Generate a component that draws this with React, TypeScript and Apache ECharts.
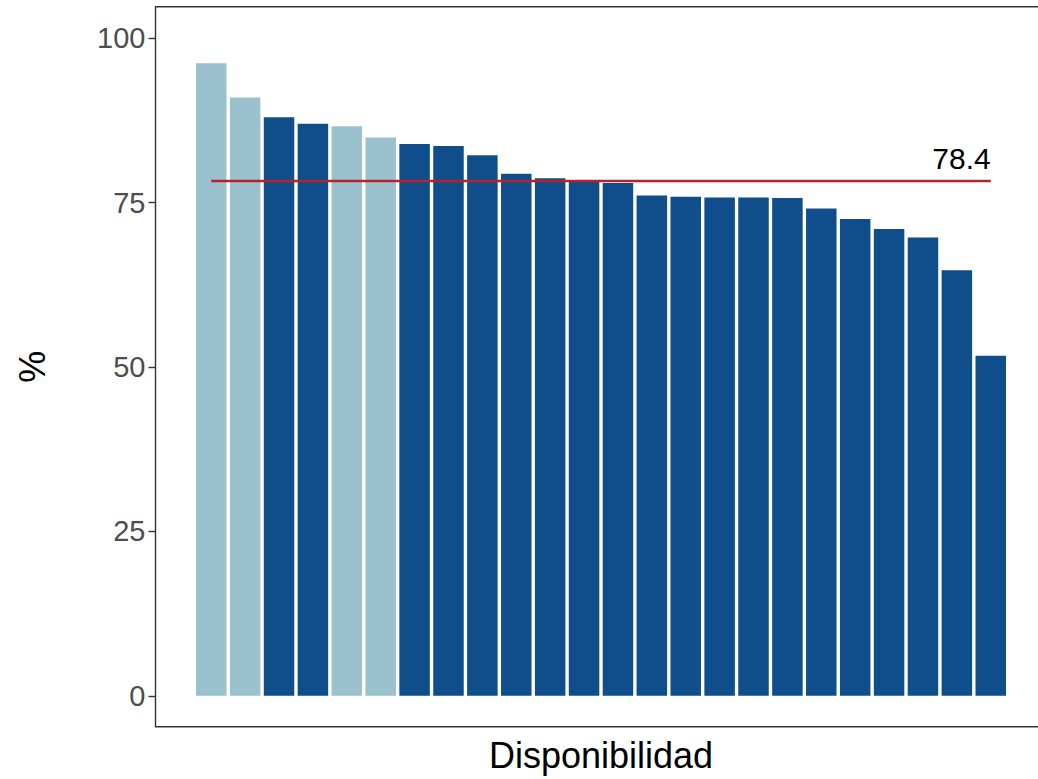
import React, { useEffect, useRef } from "react";
import * as echarts from "echarts";

const categories = ["A1","A2","A3","A4","A5","A6","A7","A8","A9","A10","A11","A12","A13","A14","A15","A16","A17","A18","A19","A20","A21","A22","A23","A24"];
const values = [96.2, 91.0, 88.0, 87.0, 86.6, 84.9, 83.9, 83.6, 82.2, 79.4, 78.7, 78.2, 78.0, 76.1, 75.9, 75.8, 75.8, 75.7, 74.1, 72.5, 71.0, 69.7, 64.7, 51.7];
const groups = ["light","light","dark","dark","light","light","dark","dark","dark","dark","dark","dark","dark","dark","dark","dark","dark","dark","dark","dark","dark","dark","dark","dark"];
const meanValue = 78.4;
const yTicks = [0, 25, 50, 75, 100];

const COLORS: Record<string, string> = { light: "#9BC0CE", dark: "#0F4E8A" };
const FONT = "'Liberation Sans', Arial, sans-serif";

export default function App() {
  const ref = useRef<HTMLDivElement>(null);
  useEffect(() => {
    if (!ref.current) return;
    const chart = echarts.init(ref.current, undefined, { renderer: "svg" });
    const gridLeft = 194.3;
    const gridRight = 30.3;
    const gridTop = 6.7;
    const gridBottom = 779 - 726.7;
    chart.setOption({
      animation: false,
      backgroundColor: "#ffffff",
      textStyle: { fontFamily: FONT },
      grid: { left: gridLeft, right: gridRight, top: gridTop, bottom: gridBottom, containLabel: false },
      graphic: [
        {
          type: "rect",
          silent: true,
          shape: { x: 155.5, y: gridTop, width: 1000, height: 720 },
          style: { fill: "none", stroke: "#333333", lineWidth: 1.4 },
          z: 10,
        },
      ],
      xAxis: {
        type: "category",
        data: categories,
        axisLine: { show: false },
        axisTick: { show: false },
        axisLabel: { show: false },
        name: "Disponibilidad",
        nameLocation: "middle",
        nameGap: 11,
        nameTextStyle: { fontSize: 36, color: "#000000", fontFamily: FONT, verticalAlign: "top" },
      },
      yAxis: {
        type: "value",
        min: -4.7,
        max: 104.8,
        offset: gridLeft - 155.5,
        splitLine: { show: false },
        axisLine: { show: false },
        axisTick: { show: true, customValues: yTicks, length: 7, lineStyle: { color: "#333333", width: 1.4 } },
        axisLabel: { customValues: yTicks, fontSize: 29, color: "#4D4D4D", margin: 10, fontFamily: FONT },
        name: "%",
        nameLocation: "middle",
        nameGap: 105,
        nameTextStyle: { fontSize: 36, color: "#000000", fontFamily: FONT },
      },
      series: [
        {
          type: "bar",
          barCategoryGap: "10%",
          data: values.map((v, i) => ({ value: v, itemStyle: { color: COLORS[groups[i]] } })),
          markLine: {
            silent: true,
            symbol: ["none", "none"],
            lineStyle: { color: "#B8222A", width: 2.4, type: "solid" },
            label: {
              show: true,
              position: "insideEndTop",
              formatter: String(meanValue),
              fontSize: 30,
              color: "#000000",
              fontFamily: FONT,
              distance: [0, 7],
            },
            data: [[
              { coord: [categories[0], meanValue] },
              { coord: [categories[categories.length - 1], meanValue] },
            ]],
          },
        },
      ],
    });
    return () => chart.dispose();
  }, []);
  return <div ref={ref} style={{ position: "fixed", left: 0, top: 0, width: 1038, height: 779 }} />;
}
